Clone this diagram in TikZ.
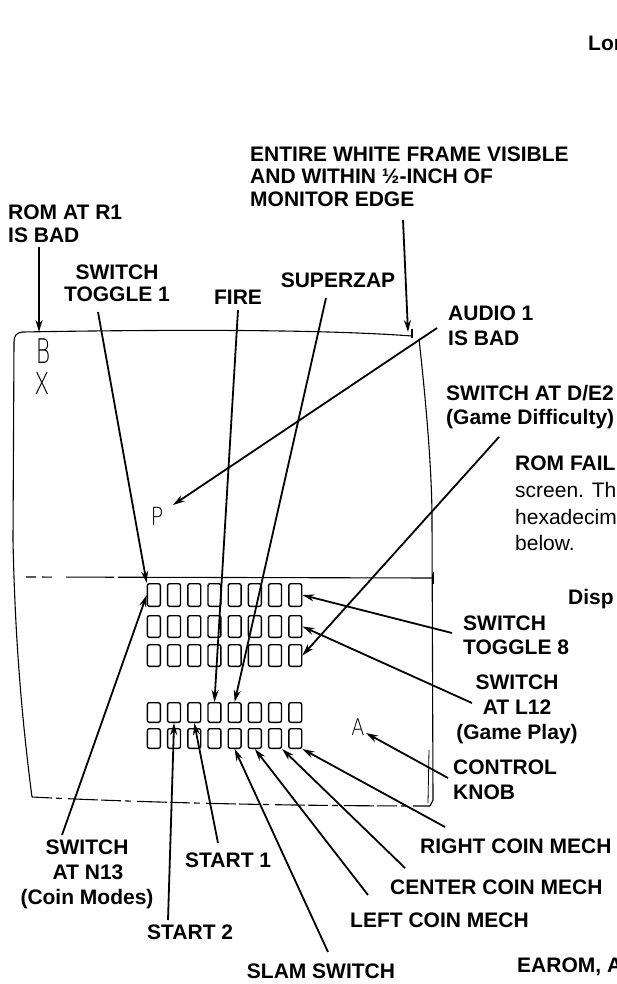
\documentclass[tikz,border=0pt]{standalone}
\usepackage{fontspec}
\setmainfont{Liberation Sans}
\IfFontExistsTF{DejaVu Sans ExtraLight}
  {\newfontfamily\thinfont{DejaVu Sans ExtraLight}}
  {\IfFontExistsTF{DejaVuSans-ExtraLight.ttf}
    {\newfontfamily\thinfont{DejaVuSans-ExtraLight.ttf}}
    {\newfontfamily\thinfont{Liberation Sans}}}
\usetikzlibrary{arrows.meta,calc}
\begin{document}
\begin{tikzpicture}[x=1pt,y=-1pt,
  lbl/.style={font=\bfseries\fontsize{21}{24}\selectfont, inner sep=0pt},
  txt/.style={font=\fontsize{21}{24}\selectfont, inner sep=0pt},
  scr/.style={inner sep=0pt},
  cell/.style={draw, line width=1.4pt, rounded corners=2pt, minimum width=12.9pt, inner sep=0pt},
  arr/.style={line width=1.8pt, -{Stealth[length=12pt,width=7pt]}},
  frame/.style={line width=1.1pt}
]
\useasboundingbox (0,0) rectangle (616,984);

% ---- monitor outline ----
\draw[frame] (412,336) .. controls (330,330) and (200,329) .. (22,332)
  .. controls (16,333) and (14,336) .. (14,342)
  -- (13,540) .. controls (15,640) and (22,720) .. (32,797);
\draw[frame] (412,329) -- (412,338);
\draw[frame] (419,339) .. controls (428,420) and (432,480) .. (432,520)
  -- (433,800) -- (430,806);
\draw[frame, line width=0.8pt] (429,750) -- (428,803);
\draw[frame, dash pattern=on 20pt off 4pt on 6pt off 6pt on 30pt off 3pt]
  (32,797) .. controls (150,803) and (300,806) .. (430,806);
\draw[frame, dash pattern=on 10pt off 6pt on 10pt off 14pt on 48pt off 4pt on 400pt]
  (26,577) -- (434,578);
\draw[frame, line width=0.8pt] (433,572) -- (433,584);

% ---- screen characters ----
\node[scr, xscale=0.65, font=\thinfont\fontsize{34}{34}\selectfont] (chB) at (43,351) {B};
\node[scr, xscale=0.73, font=\thinfont\fontsize{30}{30}\selectfont] (chX) at (42,384) {X};
\node[scr, xscale=0.85, font=\thinfont\fontsize{25}{25}\selectfont] (chP) at (157,516) {P};
\node[scr, xscale=0.83, font=\thinfont\fontsize{23}{23}\selectfont] (chA) at (358,727) {A};

% ---- switch cells ----
\foreach \r/\y/\h in {1/595/22.6, 2/626.5/21.6, 3/655.5/21.6, 4/712.5/19.6, 5/738.5/19.6}
  \foreach \c in {1,...,8}
    \node[cell, minimum height=\h pt] (b\r\c) at ({153.85+(\c-1)*20.2}, \y) {};

% ---- labels ----
\node[lbl, anchor=base west] (lon) at (588,51) {Lon};
\node[lbl, anchor=base west] (ent1) at (250,161.5) {ENTIRE WHITE FRAME VISIBLE};
\node[lbl, anchor=base west] (ent2) at (250,184) {AND WITHIN ½-INCH OF};
\node[lbl, anchor=base west] (ent3) at (250,206.5) {MONITOR EDGE};
\node[lbl, anchor=base west] (rom1) at (8,219.5) {ROM AT R1};
\node[lbl, anchor=base west] (rom2) at (8,242.5) {IS BAD};
\node[lbl, anchor=base] (tg1a) at (117,279.5) {SWITCH};
\node[lbl, anchor=base] (tg1b) at (117,301.5) {TOGGLE 1};
\node[lbl, anchor=base] (fire) at (238,304.5) {FIRE};
\node[lbl, anchor=base] (sz) at (338,287.5) {SUPERZAP};
\node[lbl, anchor=base west] (aud1) at (448,320.5) {AUDIO 1};
\node[lbl, anchor=base west] (aud2) at (448,345) {IS BAD};
\node[lbl, anchor=base west] (de1) at (446,400.5) {SWITCH AT D/E2};
\node[lbl, anchor=base west] (de2) at (446,424.5) {(Game Difficulty)};
\node[lbl, anchor=base west] (rf) at (515,470.5) {ROM FAIL};
\node[txt, anchor=base west] (rf2) at (515,497.5) {screen. The};
\node[txt, anchor=base west] (rf3) at (515,524.5) {hexadecim};
\node[txt, anchor=base west] (rf4) at (515,550.5) {below.};
\node[lbl, anchor=base west] (disp) at (568,604.5) {Disp};
\node[lbl, anchor=base west] (t8a) at (463,630.5) {SWITCH};
\node[lbl, anchor=base west] (t8b) at (463,654.5) {TOGGLE 8};
\node[lbl, anchor=base] (l12a) at (517,689.5) {SWITCH};
\node[lbl, anchor=base] (l12b) at (517,714.5) {AT L12};
\node[lbl, anchor=base] (l12c) at (517,739.5) {(Game Play)};
\node[lbl, anchor=base west] (kn1) at (453,774.5) {CONTROL};
\node[lbl, anchor=base west] (kn2) at (453,799.5) {KNOB};
\node[lbl, anchor=base west] (rcm) at (420,853.5) {RIGHT COIN MECH};
\node[lbl, anchor=base west] (ccm) at (390,894.5) {CENTER COIN MECH};
\node[lbl, anchor=base west] (lcm) at (350,927.5) {LEFT COIN MECH};
\node[lbl, anchor=base] (slam) at (321,978) {SLAM SWITCH};
\node[lbl, anchor=base west] (earom) at (517,972) {EAROM, A};
\node[lbl, anchor=base west] (st1) at (185,867.5) {START 1};
\node[lbl, anchor=base west] (st2) at (147,939.5) {START 2};
\node[lbl, anchor=base] (n13a) at (87,854.5) {SWITCH};
\node[lbl, anchor=base] (n13b) at (88,879.5) {AT N13};
\node[lbl, anchor=base] (n13c) at (87,904.5) {(Coin Modes)};

% ---- connector end points ----
\coordinate (cR1) at (39,247);
\coordinate (cR1tip) at (39,332);
\coordinate (cT1) at (98,312);
\coordinate (cFire) at (238,310);
\coordinate (cSZ) at (326,298);
\coordinate (cEdge) at (403,220);
\coordinate (cEdgeTip) at (408,332);
\coordinate (cAud) at (437,328);
\coordinate (cAudTip) at (173,505);
\coordinate (cDE) at (499,437);
\coordinate (cT8) at (452,633);
\coordinate (cL12) at (472,703);
\coordinate (cKnob) at (448,778);
\coordinate (cKnobTip) at (366,733);
\coordinate (cRC) at (445,827);
\coordinate (cCC) at (405,868);
\coordinate (cLC) at (368,895);
\coordinate (cSL) at (328,952);
\coordinate (cS1) at (218,843);
\coordinate (cS2) at (168,920);
\coordinate (cN13) at (62,835);

% ---- arrows ----
\draw[arr] (cR1) -- (cR1tip);
\draw[arr] (cT1) -- (b11.north west);
\draw[arr] (cFire) -- (b44.north);
\draw[arr] (cSZ) -- (b45.north);
\draw[arr] (cEdge) -- (cEdgeTip);
\draw[arr] (cAud) -- (cAudTip);
\draw[arr] (cDE) -- (b38.east);
\draw[arr] (cT8) -- (b18.east);
\draw[arr] (cL12) -- (b28.east);
\draw[arr] (cKnob) -- (cKnobTip);
\draw[arr] (cRC) -- (b58.south east);
\draw[arr] (cCC) -- (b57.south east);
\draw[arr] (cLC) -- (b56.south);
\draw[arr] (cSL) -- (b55.south);
\draw[arr] (cS1) -- (b43.south);
\draw[arr] (cS2) -- (b42.south);
\draw[arr] (cN13) -- (b11.west);
\end{tikzpicture}
\end{document}
